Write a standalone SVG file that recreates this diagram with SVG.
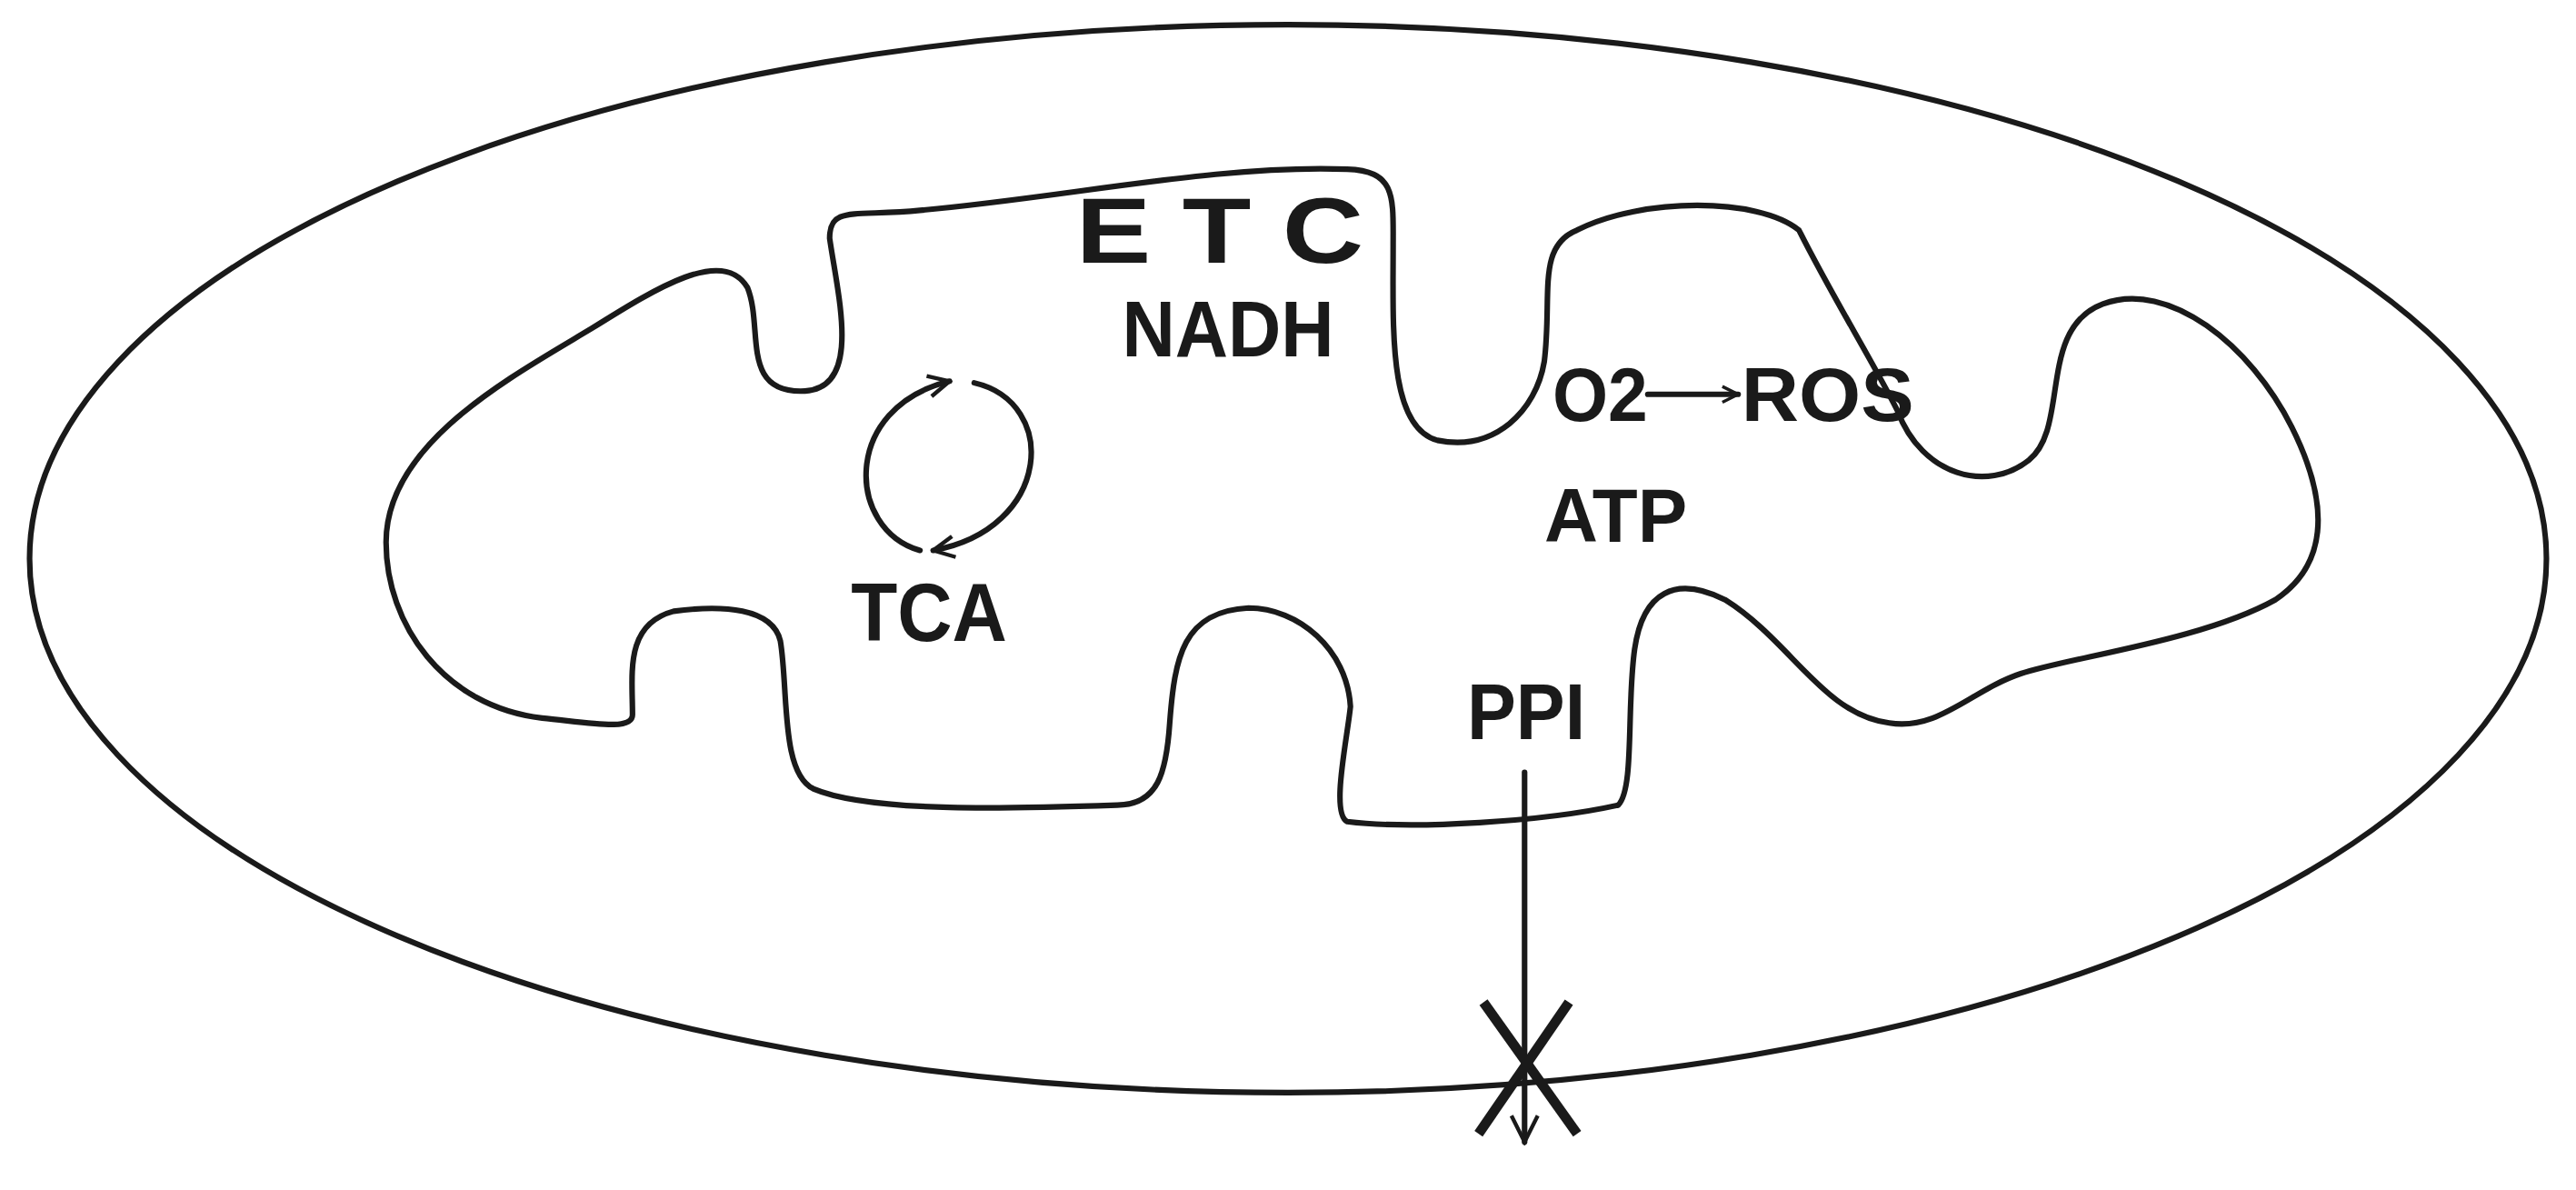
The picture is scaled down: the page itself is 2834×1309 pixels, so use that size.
<svg xmlns="http://www.w3.org/2000/svg" width="2834" height="1309" viewBox="0 0 2834 1309">
<style>
.ln{fill:none;stroke:#1a1a1a;stroke-width:3.4;stroke-linecap:round;stroke-linejoin:round}
.t{font-family:"Liberation Sans",Arial,sans-serif;font-weight:bold;fill:#1a1a1a}
</style>
<defs>
<marker id="ah" viewBox="0 0 10 10" refX="9" refY="5" markerWidth="12" markerHeight="12" orient="auto" markerUnits="userSpaceOnUse">
<path d="M1,1 L9,5 L1,9" fill="none" stroke="#1a1a1a" stroke-width="1.6"/>
</marker>
<marker id="ah2" viewBox="0 0 10 10" refX="9" refY="5" markerWidth="16" markerHeight="16" orient="auto" markerUnits="userSpaceOnUse">
<path d="M1,1 L9,5 L1,9" fill="none" stroke="#1a1a1a" stroke-width="1.5"/>
</marker>
<marker id="ah3" viewBox="0 0 10 10" refX="9" refY="5" markerWidth="20" markerHeight="20" orient="auto" markerUnits="userSpaceOnUse">
<path d="M1,1 L9,5 L1,9" fill="none" stroke="#1a1a1a" stroke-width="1.2"/>
</marker>
</defs>
<rect width="2834" height="1309" fill="#fff"/>
<g transform="scale(1.8074)">
<g id="outer-membrane"><ellipse class="ln" cx="784" cy="340" rx="766" ry="325"/></g>
<g id="inner-membrane"><path class="ln" d="M505,145 C505,125 520,132 560,128 C650,120 740,100 820,103 C850,104 848,120 848,150 C848,200 845,260 875,268 C910,275 935,250 940,220 C945,180 935,150 960,140 C1000,120 1070,120 1095,140 C1115,180 1140,220 1155,250 C1170,290 1210,300 1235,280 C1260,260 1240,200 1280,185 C1320,170 1370,210 1395,260 C1420,310 1415,345 1385,365 C1340,390 1260,400 1230,410 C1200,420 1180,445 1150,440 C1110,435 1090,390 1050,365 C1020,350 1000,360 995,395 C990,430 995,480 985,490 C940,500 860,505 820,500 C810,495 820,450 822,430 C820,395 790,370 760,370 C720,372 715,400 712,440 C710,470 705,490 680,490 C620,492 530,495 495,480 C475,470 480,420 475,390 C470,370 440,368 410,372 C380,380 385,410 385,435 C385,445 360,440 330,437 C270,430 235,380 235,330 C235,270 310,230 360,200 C400,175 440,150 455,175 C465,200 450,240 490,238 C525,236 510,180 505,145 Z"/></g>
<g id="tca-cycle">
<path class="ln" d="M560,335 C515,322 512,248 578,232" marker-end="url(#ah2)"/>
<path class="ln" d="M593,233 C645,245 640,322 568,335" marker-end="url(#ah2)"/>
<text class="t" x="518" y="390" font-size="50" textLength="95" lengthAdjust="spacingAndGlyphs">TCA</text>
</g>
<g id="etc"><text class="t" x="655" y="160" font-size="56" textLength="175" lengthAdjust="spacingAndGlyphs">E T C</text></g>
<g id="nadh"><text class="t" x="683" y="217" font-size="48" textLength="129" lengthAdjust="spacingAndGlyphs">NADH</text></g>
<g id="ros"><text class="t" x="945" y="256" font-size="46" textLength="58" lengthAdjust="spacingAndGlyphs">O2</text>
<text class="t" x="1060" y="256" font-size="46" textLength="105" lengthAdjust="spacingAndGlyphs">ROS</text></g>
<g id="atp"><text class="t" x="940" y="330" font-size="46" textLength="87" lengthAdjust="spacingAndGlyphs">ATP</text></g>
<g id="ppi"><text class="t" x="893" y="450" font-size="48" textLength="72" lengthAdjust="spacingAndGlyphs">PPI</text></g>
<g id="connectors">
<line class="ln" x1="1003" y1="240" x2="1058" y2="240" stroke-width="2.8" marker-end="url(#ah)"/>
<line class="ln" x1="928" y1="470" x2="928" y2="695" stroke-width="2.8" marker-end="url(#ah3)"/>
<line x1="903" y1="610" x2="960" y2="690" stroke="#1a1a1a" stroke-width="6"/>
<line x1="955" y1="610" x2="900" y2="690" stroke="#1a1a1a" stroke-width="6"/>
</g>
</g>
</svg>
